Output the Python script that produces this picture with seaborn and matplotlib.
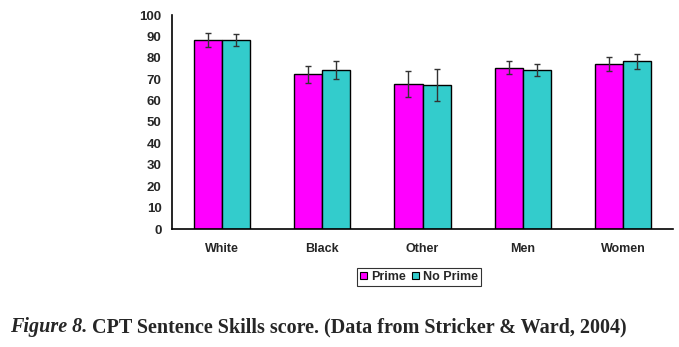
import matplotlib
matplotlib.use("Agg")
import matplotlib.pyplot as plt
import seaborn as sns
import pandas as pd
import numpy as np
from matplotlib.patches import Patch

categories = ["White", "Black", "Other", "Men", "Women"]
groups = ["Prime", "No Prime"]
prime_values = [88.3, 72.3, 67.6, 75.4, 77.1]
noprime_values = [88.3, 74.2, 67.1, 74.4, 78.5]
prime_err = [3.3, 3.9, 6.1, 3.0, 3.2]
noprime_err = [2.8, 4.1, 7.5, 2.9, 3.5]
yticks = [0, 10, 20, 30, 40, 50, 60, 70, 80, 90, 100]

df = pd.DataFrame({
    "cat": categories * 2,
    "grp": [groups[0]] * 5 + [groups[1]] * 5,
    "val": prime_values + noprime_values,
    "err": prime_err + noprime_err,
})

sns.set_style("white")
fig = plt.figure(figsize=(6.79, 3.47), dpi=100)
ax = fig.add_axes([172/679, 1-229/347, (673-172)/679, (229-15)/347])

palette = {"Prime": "#FF00FF", "No Prime": "#33CCCC"}
sns.barplot(data=df, x="cat", y="val", hue="grp", order=categories, hue_order=groups,
            palette=palette, width=0.56, edgecolor="black", linewidth=1.0,
            saturation=1, errorbar=None, ax=ax, legend=False)

# error bars
for gi, g in enumerate(groups):
    container = ax.containers[gi]
    sub = df[df.grp == g].set_index("cat").loc[categories]
    xs = [p.get_x() + p.get_width()/2 for p in container.patches]
    ax.errorbar(xs, sub["val"].values, yerr=sub["err"].values, fmt="none",
                ecolor="#333333", elinewidth=1.0, capsize=2.5, capthick=1.0)

ax.set_xlim(-0.5, 4.5)
ax.set_ylim(0, 100)
ax.set_yticks(yticks)
ax.set_yticklabels([str(t) for t in yticks], fontsize=9.5, fontweight="bold",
                   family="Liberation Sans")
ax.set_xticks(range(len(categories)))
ax.set_xticklabels(categories, fontsize=9, fontweight="bold", family="Liberation Sans")
ax.set_xticks(np.arange(-0.5, 5, 1), minor=True)
ax.tick_params(axis="x", which="major", length=0, pad=10)
ax.tick_params(axis="x", which="minor", length=4, width=1, direction="out", color="black")
ax.tick_params(axis="y", which="major", length=3.5, width=1, direction="out", color="black", pad=4)
ax.set_xlabel("")
ax.set_ylabel("")
for s in ["top", "right"]:
    ax.spines[s].set_visible(False)
for s in ["left", "bottom"]:
    ax.spines[s].set_color("black")
    ax.spines[s].set_linewidth(1.2)

handles = [Patch(facecolor=palette[g], edgecolor="black", linewidth=0.8) for g in groups]
leg = fig.legend(handles, groups, loc="center", bbox_to_anchor=(419/679, 1-277/347),
                 ncol=2, frameon=True, fancybox=False, edgecolor="black",
                 prop={"family": "Liberation Sans", "size": 9, "weight": "bold"},
                 handlelength=0.55, handleheight=0.55, handletextpad=0.3,
                 columnspacing=0.5, borderpad=0.25, borderaxespad=0)
leg.get_frame().set_linewidth(0.8)

fig.text(10/679, 1-332/347, "Figure 8.", fontsize=14.5, fontstyle="italic", fontweight="bold",
         family="Liberation Serif", va="baseline", ha="left")
fig.text(92/679, 1-332/347, "CPT Sentence Skills score. (Data from Stricker & Ward, 2004)",
         fontsize=14.5, fontweight="bold", family="Liberation Serif", va="baseline", ha="left")

fig.savefig("out.png", dpi=100, facecolor="white")
